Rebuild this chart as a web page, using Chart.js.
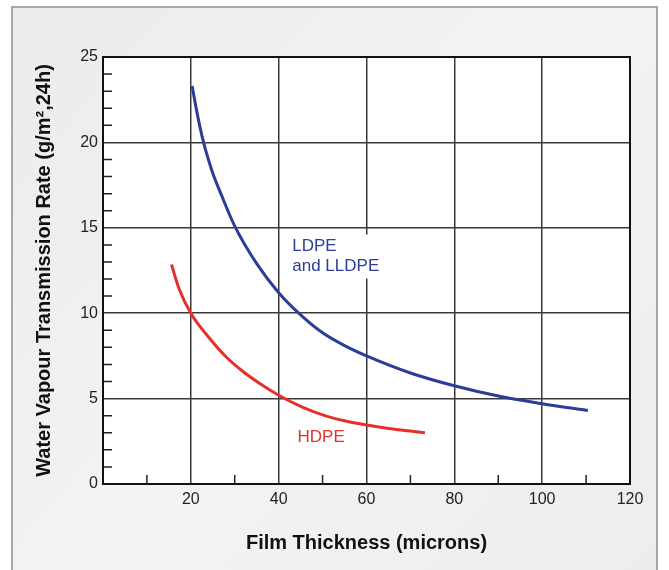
<!DOCTYPE html>
<html>
<head>
<meta charset="utf-8">
<script src="https://cdn.jsdelivr.net/npm/chart.js@4/dist/chart.umd.min.js"></script>
<style>
  html, body { margin: 0; padding: 0; background: #fff; }
  #wrap { width: 669px; height: 570px; }
</style>
</head>
<body>
<div id="wrap"><canvas id="wvtrChart" width="669" height="570"></canvas></div>
<script>
// Film thickness (microns) vs water vapour transmission rate
const ldpeThickness = [20.3, 21, 22, 23, 24, 25, 27, 30, 35, 40, 45, 50, 55, 60, 70, 80, 90, 100, 110.4];
const ldpeRate      = [23.3, 22.3, 21.0, 19.9, 19.0, 18.2, 16.9, 15.1, 12.9, 11.2, 9.9, 8.85, 8.1, 7.5, 6.5, 5.75, 5.15, 4.7, 4.3];

const hdpeThickness = [15.6, 17.3, 20, 24.2, 28, 31.8, 35.6, 40, 45, 50, 55, 60, 65, 70, 73.3];
const hdpeRate      = [12.85, 11.45, 10.0, 8.55, 7.45, 6.6, 5.9, 5.2, 4.55, 4.05, 3.7, 3.45, 3.25, 3.1, 3.0];

const xTicks = [20, 40, 60, 80, 100, 120];
const yTicks = [0, 5, 10, 15, 20, 25];

const BLUE = '#2b3d98';
const RED = '#e5312b';
const FONT = "'Liberation Sans', Arial, Helvetica, sans-serif";

const toPoints = (xs, ys) => xs.map((x, i) => ({ x: x, y: ys[i] }));

// card background, white plot area, border, inner minor ticks, curve labels
const framePlugin = {
    id: 'frame',
    beforeDraw(chart) {
        const { ctx, chartArea: a } = chart;
        ctx.save();
        ctx.fillStyle = '#ffffff';
        ctx.fillRect(0, 0, chart.width, chart.height);
        const g = ctx.createLinearGradient(0, 0, chart.width, chart.height);
        g.addColorStop(0, '#ebebeb');
        g.addColorStop(0.5, '#f3f3f3');
        g.addColorStop(1, '#ededed');
        ctx.fillStyle = g;
        ctx.fillRect(12, 7, 645, 570);
        ctx.strokeStyle = '#a8a8a8';
        ctx.lineWidth = 2;
        ctx.strokeRect(12, 7, 645, 570);
        ctx.fillStyle = '#ffffff';
        ctx.fillRect(a.left, a.top, a.right - a.left, a.bottom - a.top);
        ctx.restore();
    },
    afterDatasetsDraw(chart) {
        const { ctx, chartArea: a, scales: { x, y } } = chart;
        ctx.save();
        // minor ticks
        ctx.strokeStyle = '#222';
        ctx.lineWidth = 1.5;
        ctx.beginPath();
        for (let v = 1; v < 25; v++) {
            if (v % 5 === 0) continue;
            const py = y.getPixelForValue(v);
            ctx.moveTo(a.left, py);
            ctx.lineTo(a.left + 9, py);
        }
        for (let v = 10; v < 120; v += 20) {
            const px = x.getPixelForValue(v);
            ctx.moveTo(px, a.bottom);
            ctx.lineTo(px, a.bottom - 9);
        }
        ctx.stroke();
        // plot border
        ctx.strokeStyle = '#111';
        ctx.lineWidth = 2;
        ctx.strokeRect(a.left, a.top, a.right - a.left, a.bottom - a.top);

        // curve labels
        ctx.font = '17px ' + FONT;
        ctx.textBaseline = 'middle';
        ctx.textAlign = 'left';
        const lx = x.getPixelForValue(43.1);
        const ly = y.getPixelForValue(13.9);
        ctx.fillStyle = '#ffffff';
        ctx.fillRect(lx - 3, ly - 12, 96, 44);
        ctx.fillStyle = BLUE;
        ctx.fillText('LDPE', lx, ly);
        ctx.fillText('and LLDPE', lx, ly + 20);

        const hx = x.getPixelForValue(44.3);
        const hy = y.getPixelForValue(2.75);
        ctx.fillStyle = RED;
        ctx.fillText('HDPE', hx, hy);
        ctx.restore();
    }
};

const wvtrConfig = {
    type: 'scatter',
    data: {
        datasets: [{
            label: 'LDPE and LLDPE',
            data: toPoints(ldpeThickness, ldpeRate),
            borderColor: BLUE,
            borderWidth: 3,
            showLine: true,
            cubicInterpolationMode: 'monotone',
            pointRadius: 0
        }, {
            label: 'HDPE',
            data: toPoints(hdpeThickness, hdpeRate),
            borderColor: RED,
            borderWidth: 3,
            showLine: true,
            cubicInterpolationMode: 'monotone',
            pointRadius: 0
        }]
    },
    options: {
        responsive: false,
        animation: false,
        layout: {
            padding: { left: 20, top: 57, right: 39, bottom: 0 }
        },
        plugins: {
            legend: { display: false },
            tooltip: { enabled: false }
        },
        scales: {
            x: {
                type: 'linear',
                min: 0,
                max: 120,
                afterBuildTicks: (scale) => {
                    scale.ticks = [0].concat(xTicks).map(v => ({ value: v }));
                },
                ticks: {
                    callback: (v) => (v === 0 ? '' : v),
                    color: '#222',
                    padding: 6,
                    maxRotation: 0,
                    font: { family: FONT, size: 16 }
                },
                grid: { color: '#3a3a3a', lineWidth: 1.5, drawTicks: false },
                border: { display: false },
                title: {
                    display: true,
                    text: 'Film Thickness (microns)',
                    color: '#111',
                    padding: { top: 0, bottom: 15 },
                    font: { family: FONT, size: 20, weight: 'bold' }
                },
                afterFit: (scale) => { scale.height = 86; }
            },
            y: {
                type: 'linear',
                min: 0,
                max: 25,
                afterBuildTicks: (scale) => {
                    scale.ticks = yTicks.map(v => ({ value: v }));
                },
                ticks: {
                    color: '#222',
                    padding: 5,
                    font: { family: FONT, size: 16 }
                },
                grid: { color: '#3a3a3a', lineWidth: 1.5, drawTicks: false },
                border: { display: false },
                title: {
                    display: true,
                    text: 'Water Vapour Transmission Rate (g/m²,24h)',
                    color: '#111',
                    padding: { top: 12, bottom: 0 },
                    font: { family: FONT, size: 20, weight: 'bold' }
                },
                afterFit: (scale) => { scale.width = 83; }
            }
        }
    },
    plugins: [framePlugin]
};

new Chart(document.getElementById('wvtrChart').getContext('2d'), wvtrConfig);
</script>
</body>
</html>
